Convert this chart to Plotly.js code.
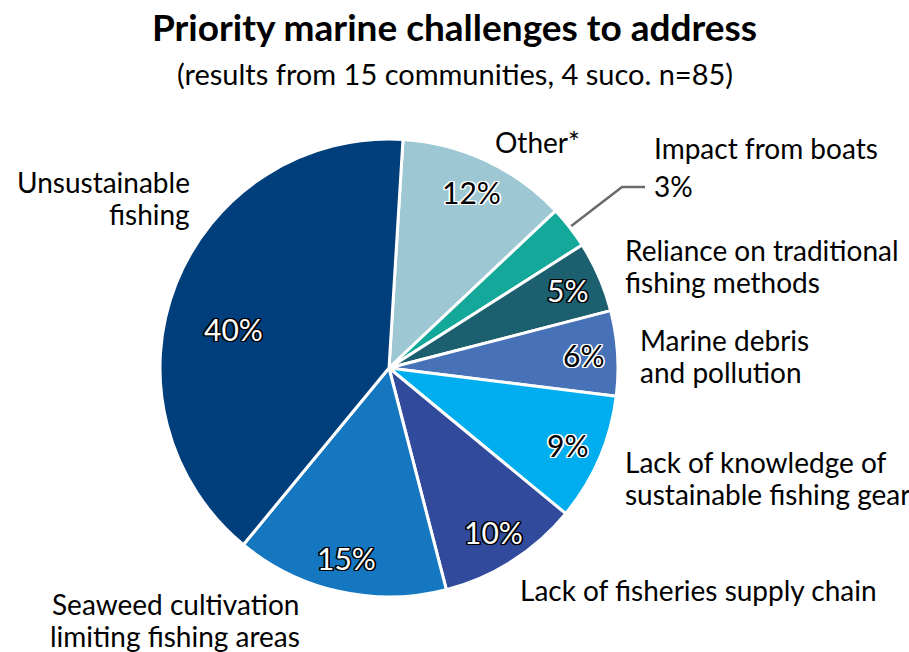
<!DOCTYPE html>
<html><head><meta charset="utf-8">
<script src="https://cdn.plot.ly/plotly-3.0.1.min.js"></script>
<style>html,body{margin:0;padding:0;background:#fff}#chart{width:909px;height:652px}</style>
</head><body><div id="chart"></div>
<script>
// ---- data ----
const categories = [
  "Other*",
  "Impact from boats",
  "Reliance on traditional<br>fishing methods",
  "Marine debris<br>and pollution",
  "Lack of knowledge of<br>sustainable fishing gear",
  "Lack of fisheries supply chain",
  "Seaweed cultivation<br>limiting fishing areas",
  "Unsustainable<br>fishing"
];
const values = [12, 3, 5, 6, 9, 10, 15, 40];
const percentLabels = values.map(v => v + "%");
const titleText = "Priority marine challenges to address";
const subtitleText = "(results from 15 communities, 4 suco. n=85)";

// ---- style ----
const colors = ["#9dc8d3", "#13a89a", "#1c5f6f", "#4872b8", "#00aeef", "#324a9c", "#1577bf", "#003f7b"];
const darkSlice = [false, false, true, false, false, true, true, true];
const FONT = "Lato, 'Open Sans', sans-serif";
const W = 909, H = 652;
const cx = 389, cy = 368, R = 229;
const rotation = 3.5;
const LABEL_SIZE = 28, LH = 32;

const px = x => x / W;
const py = y => 1 - y / H;

function outline(c) {
  const o = [];
  for (const [dx, dy] of [[1,0],[-1,0],[0,1],[0,-1],[1,1],[-1,-1],[1,-1],[-1,1]]) o.push(dx*1.4 + "px " + dy*1.4 + "px 0 " + c);
  return o.join(", ");
}

const total = values.reduce((a, b) => a + b, 0);
let cum = 0;
const mids = values.map(v => { const m = rotation + (cum + v / 2) / total * 360; cum += v; return m; });

const annotations = [];
// inside percentages
values.forEach((v, i) => {
  if (v < 4) return;
  let ang = mids[i], rf = 0.85;
  if (v === Math.max(...values)) { ang -= 7.5; rf = 0.70; }
  const a = ang * Math.PI / 180;
  const x = cx + rf * R * Math.sin(a), y = cy - rf * R * Math.cos(a);
  annotations.push({
    x: px(x), y: py(y), xref: "paper", yref: "paper", showarrow: false,
    text: percentLabels[i], xanchor: "center", yanchor: "middle",
    font: { family: FONT, size: 30, color: darkSlice[i] ? "#ffffff" : "#000000", shadow: outline(darkSlice[i] ? "#000" : "#fff") }
  });
});

// outside labels (block centre, anchor)
const labelPos = [
  [537, 142, "center"],
  [652, 148, "left"],
  [623, 266, "left"],
  [638, 356, "left"],
  [623, 478, "left"],
  [518, 590, "left"],
  [175, 620, "center"],
  [192, 198, "right"]
];
categories.forEach((c, i) => {
  const [x, y, anc] = labelPos[i];
  const lines = c.split("<br>");
  lines.forEach((ln, k) => {
    annotations.push({
      x: px(x), y: py(y + (k - (lines.length - 1) / 2) * LH), xref: "paper", yref: "paper", showarrow: false,
      text: ln, xanchor: anc, yanchor: "middle", align: anc,
      font: { family: FONT, size: LABEL_SIZE, color: "#000" }
    });
  });
});
// small slice percentage outside
annotations.push({
  x: px(652), y: py(186), xref: "paper", yref: "paper", showarrow: false,
  text: percentLabels[1], xanchor: "left", yanchor: "middle",
  font: { family: FONT, size: LABEL_SIZE, color: "#000" }
});
// subtitle
annotations.push({
  x: 0.5, y: py(73), xref: "paper", yref: "paper", showarrow: false,
  text: subtitleText, xanchor: "center", yanchor: "middle",
  font: { family: FONT, size: 29, color: "#000" }
});

// leader line for small slice
const am = mids[1] * Math.PI / 180;
const lx = cx + (R + 2) * Math.sin(am), ly = cy - (R + 2) * Math.cos(am);
const shapes = [{
  type: "path", xref: "paper", yref: "paper",
  path: `M ${px(lx)} ${py(ly)} L ${px(622)} ${py(187)} L ${px(645)} ${py(187)}`,
  line: { color: "#6b6b6b", width: 2.5 }
}];

const trace = {
  type: "pie",
  labels: categories,
  values: values,
  sort: false,
  direction: "clockwise",
  rotation: rotation,
  marker: { colors: colors, line: { color: "#ffffff", width: 3 } },
  textinfo: "none",
  hoverinfo: "label+percent",
  showlegend: false,
  domain: { x: [px(cx - R), px(cx + R)], y: [py(cy + R), py(cy - R)] }
};

const layout = {
  width: W, height: H,
  margin: { l: 0, r: 0, t: 0, b: 0 },
  paper_bgcolor: "#fff",
  showlegend: false,
  title: {
    text: titleText,
    x: 0.5, xanchor: "center", xref: "paper",
    y: py(28), yanchor: "middle", yref: "paper",
    font: { family: FONT, size: 37, weight: "bold", color: "#000" }
  },
  annotations: annotations,
  shapes: shapes
};

Plotly.newPlot("chart", [trace], layout, { displayModeBar: false, staticPlot: true });
</script>
</body></html>
